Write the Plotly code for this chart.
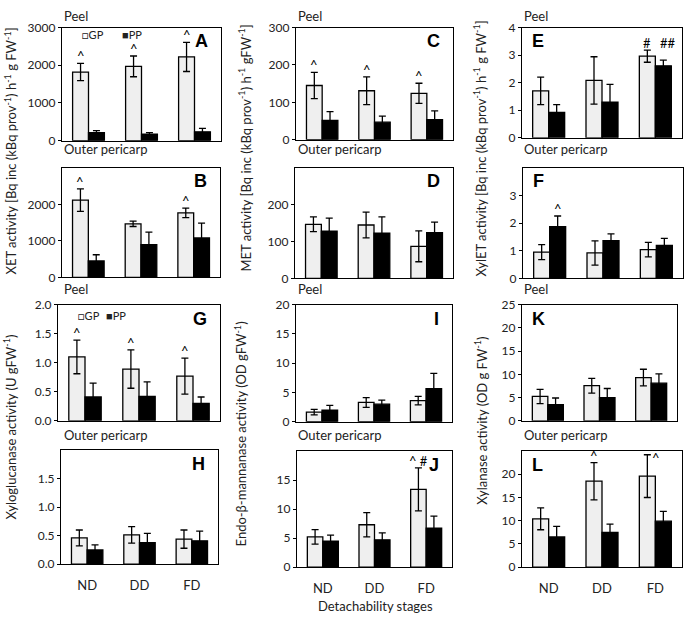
import plotly.graph_objects as go

W, H = 685, 621
FONT = "Lato"

cats = ["ND", "DD", "FD"]

# XET (A: peel, B: outer pericarp)
xet_peel_gp = [1820, 1970, 2220]; xet_peel_gp_sd = [230, 275, 385]
xet_peel_pp = [215, 175, 235];    xet_peel_pp_sd = [50, 40, 90]
xet_op_gp = [2120, 1470, 1770];   xet_op_gp_sd = [310, 75, 130]
xet_op_pp = [450, 900, 1080];     xet_op_pp_sd = [170, 340, 410]
# MET (C, D)
met_peel_gp = [145, 131, 124];    met_peel_gp_sd = [35, 37, 27]
met_peel_pp = [52, 47, 54];       met_peel_pp_sd = [23, 16, 23]
met_op_gp = [147, 145, 87];       met_op_gp_sd = [20, 35, 42]
met_op_pp = [128, 123, 124];      met_op_pp_sd = [36, 44, 29]
# XylET (E, F)
xylet_peel_gp = [1.70, 2.08, 2.96]; xylet_peel_gp_sd = [0.50, 0.86, 0.22]
xylet_peel_pp = [0.92, 1.29, 2.61]; xylet_peel_pp_sd = [0.28, 0.65, 0.21]
xylet_op_gp = [0.95, 0.92, 1.04];   xylet_op_gp_sd = [0.27, 0.44, 0.26]
xylet_op_pp = [1.87, 1.37, 1.19];   xylet_op_pp_sd = [0.39, 0.24, 0.26]
# Xyloglucanase (G, H)
xgl_peel_gp = [1.10, 0.89, 0.77];   xgl_peel_gp_sd = [0.29, 0.33, 0.31]
xgl_peel_pp = [0.41, 0.42, 0.30];   xgl_peel_pp_sd = [0.24, 0.25, 0.11]
xgl_op_gp = [0.46, 0.515, 0.44];    xgl_op_gp_sd = [0.14, 0.145, 0.16]
xgl_op_pp = [0.25, 0.38, 0.41];     xgl_op_pp_sd = [0.09, 0.16, 0.17]
# Endo-beta-mannanase (I, J)
man_peel_gp = [1.66, 3.3, 3.6];     man_peel_gp_sd = [0.47, 0.83, 0.72]
man_peel_pp = [2.0, 3.0, 5.65];     man_peel_pp_sd = [0.8, 0.7, 2.6]
man_op_gp = [5.2, 7.3, 13.4];       man_op_gp_sd = [1.25, 2.1, 3.7]
man_op_pp = [4.5, 4.7, 6.7];        man_op_pp_sd = [1.0, 1.2, 2.1]
# Xylanase (K, L)
xyl_peel_gp = [5.24, 7.55, 9.3];    xyl_peel_gp_sd = [1.53, 1.6, 1.8]
xyl_peel_pp = [3.5, 5.0, 8.1];      xyl_peel_pp_sd = [1.4, 1.95, 2.0]
xyl_op_gp = [10.4, 18.5, 19.6];     xyl_op_gp_sd = [2.35, 4.0, 4.6]
xyl_op_pp = [6.5, 7.5, 9.9];        xyl_op_pp_sd = [2.3, 1.75, 2.1]

# panel: letter -> (gp, gp_sd, pp, pp_sd, ymax, tickvals, tickfmt)
panels = {
    "A": (xet_peel_gp, xet_peel_gp_sd, xet_peel_pp, xet_peel_pp_sd, 3000, [0, 1000, 2000, 3000], "d"),
    "B": (xet_op_gp, xet_op_gp_sd, xet_op_pp, xet_op_pp_sd, 3000, [0, 1000, 2000], "d"),
    "C": (met_peel_gp, met_peel_gp_sd, met_peel_pp, met_peel_pp_sd, 300, [0, 100, 200, 300], "d"),
    "D": (met_op_gp, met_op_gp_sd, met_op_pp, met_op_pp_sd, 300, [0, 100, 200], "d"),
    "E": (xylet_peel_gp, xylet_peel_gp_sd, xylet_peel_pp, xylet_peel_pp_sd, 4, [0, 1, 2, 3, 4], "d"),
    "F": (xylet_op_gp, xylet_op_gp_sd, xylet_op_pp, xylet_op_pp_sd, 4, [0, 1, 2, 3], "d"),
    "G": (xgl_peel_gp, xgl_peel_gp_sd, xgl_peel_pp, xgl_peel_pp_sd, 2, [0, 0.5, 1, 1.5, 2], ".1f"),
    "H": (xgl_op_gp, xgl_op_gp_sd, xgl_op_pp, xgl_op_pp_sd, 2, [0, 0.5, 1, 1.5], ".1f"),
    "I": (man_peel_gp, man_peel_gp_sd, man_peel_pp, man_peel_pp_sd, 20, [0, 5, 10, 15, 20], "d"),
    "J": (man_op_gp, man_op_gp_sd, man_op_pp, man_op_pp_sd, 20, [0, 5, 10, 15], "d"),
    "K": (xyl_peel_gp, xyl_peel_gp_sd, xyl_peel_pp, xyl_peel_pp_sd, 25, [0, 5, 10, 15, 20, 25], "d"),
    "L": (xyl_op_gp, xyl_op_gp_sd, xyl_op_pp, xyl_op_pp_sd, 25, [0, 5, 10, 15, 20], "d"),
}

# significance marks above GP bars: (panel, category index, text)
marks = [
    ("A", 0, "^"), ("A", 1, "^"), ("A", 2, "^"),
    ("B", 0, "^"), ("B", 2, "^"),
    ("C", 0, "^"), ("C", 1, "^"), ("C", 2, "^"),
    ("G", 0, "^"), ("G", 1, "^"), ("G", 2, "^"),
    ("J", 2, "^ #"),
    ("L", 1, "^"), ("L", 2, "^"),
    ("E", 2, "#"),
]

# layout boxes in pixels (x0, x1, y0, y1), letter position (left/right)
boxes = {
    "A": (62, 221, 20, 136, "r"), "B": (62, 220, 164, 276, "r"),
    "C": (296, 453, 20, 135, "r"), "D": (295, 453, 164, 277, "r"),
    "E": (522, 682, 20, 133, "l"), "F": (523, 683, 164, 277, "l"),
    "G": (58, 220, 304, 423, "r"), "H": (61, 218, 453, 570, "r"),
    "I": (296, 452, 304, 424, "r"), "J": (297, 452, 454, 573, "r"),
    "K": (522, 677, 304, 423, "l"), "L": (522, 682, 454, 573, "l"),
}
bottom_row = {"H", "J", "L"}

fig = go.Figure()
annotations = []
axis_of = {}
for i, key in enumerate(panels):
    n = i + 1
    xa = "x" if n == 1 else f"x{n}"
    ya = "y" if n == 1 else f"y{n}"
    axis_of[key] = (xa, ya)
    gp, gps, pp, pps, ymax, tv, fmt = panels[key]
    eb = dict(type="data", color="black", thickness=1.3, width=3.5)
    fig.add_trace(go.Bar(x=cats, y=gp, error_y=dict(array=gps, **eb), name="GP",
                         marker=dict(color="#efefef", line=dict(color="black", width=1.3)),
                         xaxis=xa, yaxis=ya, showlegend=False))
    fig.add_trace(go.Bar(x=cats, y=pp, error_y=dict(array=pps, **eb), name="PP",
                         marker=dict(color="black", line=dict(color="black", width=1.3)),
                         xaxis=xa, yaxis=ya, showlegend=False))
    x0, x1, y0, y1, side = boxes[key]
    xk = "xaxis" if n == 1 else f"xaxis{n}"
    yk = "yaxis" if n == 1 else f"yaxis{n}"
    fig.layout[xk] = dict(domain=[x0 / W, x1 / W], anchor=ya, type="category",
                          range=[-0.5, 2.5], showline=True, mirror=True, linecolor="black",
                          linewidth=1.3, ticks="", showgrid=False,
                          showticklabels=key in bottom_row, ticklabelstandoff=9,
                          tickfont=dict(family=FONT, size=13, color="#222"))
    ticktext = [format(v, ".1f") if fmt == ".1f" else str(int(v)) for v in tv]
    fig.layout[yk] = dict(domain=[1 - y1 / H, 1 - y0 / H], anchor=xa, range=[0, ymax],
                          tickvals=tv, ticktext=ticktext, showline=True, mirror=True,
                          linecolor="black", linewidth=1.3, ticks="outside", ticklen=3,
                          tickcolor="black", showgrid=False, zeroline=False,
                          tickfont=dict(family=FONT, size=12, color="#222"))
    annotations.append(dict(text=f"<b>{key}</b>", xref=f"{xa} domain", yref=f"{ya} domain",
                            x=0.93 if side == "r" else 0.05, y=0.88,
                            xanchor="right" if side == "r" else "left", yanchor="middle",
                            showarrow=False,
                            font=dict(family="Liberation Sans", size=18, color="black")))


def add_mark(key, ci, text, level, xs):
    ymax = panels[key][4]
    xa, ya = axis_of[key]
    xshift = xs
    y = level
    if y > 0.93 * ymax:
        y = 0.88 * ymax
        xshift = xs + 9
    annotations.append(dict(text=text, x=cats[ci], y=y, xref=xa, yref=ya, xshift=xshift,
                            yshift=-3, yanchor="bottom", showarrow=False,
                            font=dict(family=FONT, size=13, color="black")))


for key, ci, t in marks:
    gp, gps = panels[key][0], panels[key][1]
    add_mark(key, ci, t, gp[ci] + gps[ci], -8)
# "##" in E sits at the level of the GP mark; "^" in F over the PP bar
gpE, gpsE = panels["E"][0], panels["E"][1]
add_mark("E", 2, "##", gpE[2] + gpsE[2], 13)
ppF, ppsF = panels["F"][2], panels["F"][3]
add_mark("F", 0, "^", ppF[0] + ppsF[0], 8)


def txt(text, xp, yp, size=13, xanchor="left", angle=0, yanchor="middle"):
    annotations.append(dict(text=text, x=xp / W, y=1 - yp / H, xref="paper", yref="paper",
                            xanchor=xanchor, yanchor=yanchor, textangle=angle, showarrow=False,
                            font=dict(family=FONT, size=size, color="#222")))


# section labels
for xp in (62, 296, 522):
    txt("Peel", xp, 8)
    txt("Outer pericarp", xp, 145)
for xp in (62, 296, 522):
    txt("Peel", xp, 288)
    txt("Outer pericarp", xp, 438)

# legends
txt("□GP", 80, 27, size=11)
txt("■PP", 120, 27, size=11)
txt("□GP", 76, 315, size=11)
txt("■PP", 104, 315, size=11)

# y-axis titles
txt("XET activity [Bq inc (kBq prov<sup>-1</sup>) h<sup>-1</sup> g FW<sup>-1</sup>]", 10, 147,
    xanchor="center", angle=-90)
txt("MET activity [Bq inc (kBq prov<sup>-1</sup>) h<sup>-1</sup> gFW<sup>-1</sup>]", 245, 144,
    xanchor="center", angle=-90)
txt("XylET activity [Bq inc (kBq prov<sup>-1</sup>) h<sup>-1</sup> g FW<sup>-1</sup>]", 480, 144,
    xanchor="center", angle=-90)
txt("Xyloglucanase activity (U gFW<sup>-1</sup>)", 10, 430, xanchor="center", angle=-90)
txt("Endo-β-mannanase activity (OD gFW<sup>-1</sup>)", 240, 437, xanchor="center", angle=-90)
txt("Xylanase activity (OD g FW<sup>-1</sup>)", 481, 423, xanchor="center", angle=-90)

# x title
txt("Detachability stages", 375, 613, xanchor="center")

fig.update_layout(width=W, height=H, margin=dict(l=0, r=0, t=0, b=0),
                  paper_bgcolor="white", plot_bgcolor="white",
                  barmode="group", bargap=0.4, bargroupgap=0,
                  annotations=annotations, showlegend=False,
                  font=dict(family=FONT, size=12, color="#222"))

fig.write_html("out.html", config={"displayModeBar": False},
               post_script="document.body.style.margin='0';document.body.style.overflow='hidden';")
